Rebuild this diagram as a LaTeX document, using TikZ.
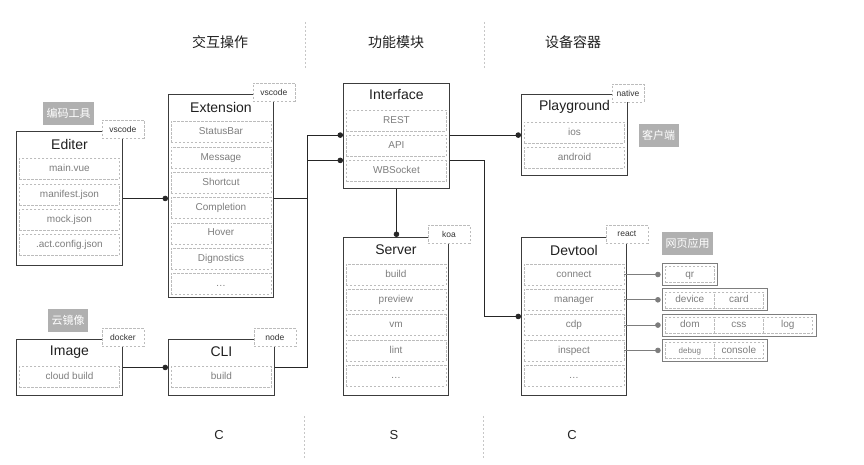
\documentclass[tikz,border=0pt]{standalone}
\usepackage{fontspec}
\setmainfont{Liberation Sans}
\newfontfamily\cjk{Noto Sans CJK SC}
\usetikzlibrary{arrows.meta,positioning,calc}
\definecolor{boxgray}{RGB}{60,60,60}
\definecolor{itemline}{RGB}{188,188,188}
\definecolor{itemtext}{RGB}{125,125,125}
\definecolor{notegray}{RGB}{176,176,176}
\definecolor{sidegray}{RGB}{125,125,125}

\begin{document}
\begin{tikzpicture}[x=1pt, y=-1pt,
    panel/.style={draw=boxgray, line width=0.9pt, anchor=north west, inner sep=0pt},
    paneltitle/.style={font=\fontsize{14}{16}\selectfont, text=black!88},
    item/.style={draw=itemline, dash pattern=on 2.5pt off 1.5pt, text=itemtext, font=\fontsize{10}{12}\selectfont, minimum width=100, minimum height=21, inner sep=0pt, text height=7.5pt, text depth=2pt},
    tag/.style={draw=itemline, dash pattern=on 2.5pt off 1.5pt, fill=white, text=black!80, font=\fontsize{8.5}{10}\selectfont, minimum width=42, minimum height=18, inner sep=0pt},
    note/.style={fill=notegray, text=white, font=\cjk\fontsize{11}{13}\selectfont, minimum height=23, inner xsep=3.5pt, inner ysep=0pt},
    cell/.style={draw=itemline, dash pattern=on 2.5pt off 1.5pt, text=itemtext, font=\fontsize{10}{12}\selectfont, minimum width=49, minimum height=16, inner sep=0pt, text height=7.5pt, text depth=2pt, anchor=west},
    sidebox/.style={draw=sidegray, line width=0.8pt, minimum height=22, inner sep=0pt, anchor=west},
    link/.style={draw=black!85, line width=0.8pt, -{Circle[length=5.5pt]}},
    sidelink/.style={draw=sidegray, line width=0.7pt, shorten >=1.5pt, -{Circle[length=5.5pt]}},
    divider/.style={draw=black!22, dash pattern=on 2pt off 2pt, line width=0.7pt},
    heading/.style={font=\cjk\fontsize{14}{16}\selectfont, text=black!88},
    sideletter/.style={font=\fontsize{13}{15}\selectfont, text=black!85}
  ]
  \useasboundingbox (0,0) rectangle (864,465);

  \node[heading] (col-ui) at (220,42) {交互操作};
  \node[heading] (col-func) at (396,42) {功能模块};
  \node[heading] (col-dev) at (573,42) {设备容器};
  \node[sideletter] (side-ui) at (219,435) {C};
  \node[sideletter] (side-func) at (394,435) {S};
  \node[sideletter] (side-dev) at (572,435) {C};
  \draw[divider] (305,22) -- (305,68);
  \draw[divider] (484,22) -- (484,68);
  \draw[divider] (304,416) -- (304,458);
  \draw[divider] (483,416) -- (483,458);

  \node[note] (note-edit) at (68.5,113.5) {编码工具};
  \node[note] (note-image) at (68,320.5) {云镜像};
  \node[note] (note-client) at (658.5,135.5) {客户端};
  \node[note] (note-web) at (687.5,243.5) {网页应用};

  \node[panel, minimum width=106, minimum height=134] (editer) at (16,131) {};
  \node[paneltitle] (editer-title) at ($(editer.north)+(0,13)$) {Editer};
  \foreach \name [count=\i] in {main.vue, manifest.json, mock.json, .act.config.json}
    \node[item] (edit-\i) at ($(editer.north)+(0,{38+25.3*(\i-1)})$) {\name};
  \node[tag] (editer-tag) at ($(editer.north east)+(0,-2)$) {vscode};

  \node[panel, minimum width=105, minimum height=203] (extension) at (168,94) {};
  \node[paneltitle] (extension-title) at ($(extension.north)+(0,13)$) {Extension};
  \foreach \name [count=\i] in {StatusBar, Message, Shortcut, Completion, Hover, Dignostics, \ldots}
    \node[item] (ext-\i) at ($(extension.north)+(0,{38+25.3*(\i-1)})$) {\name};
  \node[tag] (extension-tag) at ($(extension.north east)+(0,-2)$) {vscode};

  \node[panel, minimum width=106, minimum height=56] (image) at (16,339) {};
  \node[paneltitle] (image-title) at ($(image.north)+(0,13)$) {Image};
  \node[item] (img-1) at ($(image.north)+(0,38)$) {cloud build};
  \node[tag] (image-tag) at ($(image.north east)+(0,-2)$) {docker};

  \node[panel, minimum width=106, minimum height=56] (cli) at (168,339) {};
  \node[paneltitle] (cli-title) at ($(cli.north)+(0,13)$) {CLI};
  \node[item] (cli-1) at ($(cli.north)+(0,38)$) {build};
  \node[tag] (cli-tag) at ($(cli.north east)+(0,-2)$) {node};

  \node[panel, minimum width=106, minimum height=105] (interface) at (343,83) {};
  \node[paneltitle] (interface-title) at ($(interface.north)+(0,12)$) {Interface};
  \foreach \name [count=\i] in {REST, API, WBSocket}
    \node[item] (int-\i) at ($(interface.north)+(0,{37.5+25.3*(\i-1)})$) {\name};

  \node[panel, minimum width=105, minimum height=158] (server) at (343,237) {};
  \node[paneltitle] (server-title) at ($(server.north)+(0,13)$) {Server};
  \foreach \name [count=\i] in {build, preview, vm, lint, \ldots}
    \node[item] (srv-\i) at ($(server.north)+(0,{37.5+25.3*(\i-1)})$) {\name};
  \node[tag] (server-tag) at ($(server.north east)+(0,-3)$) {koa};

  \node[panel, minimum width=106, minimum height=81] (playground) at (521,94) {};
  \node[paneltitle] (playground-title) at ($(playground.north)+(0,13)$) {Playground};
  \foreach \name [count=\i] in {ios, android}
    \node[item] (play-\i) at ($(playground.north)+(0,{38.5+25.3*(\i-1)})$) {\name};
  \node[tag, minimum width=32] (playground-tag) at ($(playground.north east)+(0,-1)$) {native};

  \node[panel, minimum width=105, minimum height=158] (devtool) at (521,237) {};
  \node[paneltitle] (devtool-title) at ($(devtool.north)+(0,13)$) {Devtool};
  \foreach \name [count=\i] in {connect, manager, cdp, inspect, \ldots}
    \node[item] (dev-\i) at ($(devtool.north)+(0,{37.5+25.3*(\i-1)})$) {\name};
  \node[tag] (devtool-tag) at ($(devtool.north east)+(0,-3)$) {react};

  \node[sidebox, minimum width=55] (qr) at ($(dev-1.east)+(38,0)$) {};
  \node[cell] (qr-1) at ($(qr.west)+(3,0)$) {qr};
  \node[sidebox, minimum width=105] (mgr) at ($(dev-2.east)+(38,0)$) {};
  \foreach \name [count=\i] in {device, card}
    \node[cell] (mgr-\i) at ($(mgr.west)+({3+49*(\i-1)},0)$) {\name};
  \node[sidebox, minimum width=154] (cdp) at ($(dev-3.east)+(38,0)$) {};
  \foreach \name [count=\i] in {dom, css, log}
    \node[cell] (cdp-\i) at ($(cdp.west)+({3+49*(\i-1)},0)$) {\name};
  \node[sidebox, minimum width=105] (insp) at ($(dev-4.east)+(38,0)$) {};
  \node[cell, font=\fontsize{8}{10}\selectfont] (insp-1) at ($(insp.west)+(3,0)$) {debug};
  \node[cell] (insp-2) at ($(insp.west)+(52,0)$) {console};

  \coordinate (busl) at (307,0);
  \coordinate (busr) at (484,0);
  \draw[link] (editer.east) -- (editer.east -| extension.west);
  \draw[link] (extension.east |- editer.east) -| (busl |- int-2.north) -- (interface.west |- int-2.north);
  \draw[link] (cli.east) -| (busl |- int-3.north) -- (interface.west |- int-3.north);
  \draw[link] (image.east) -- (cli.west);
  \draw[link] (interface.south) -- (interface.south |- server.north);
  \draw[link] (interface.east |- int-2.north) -- (playground.west |- int-2.north);
  \draw[link] (interface.east |- int-3.north) -| (busr |- devtool.west) -- (devtool.west);
  \draw[sidelink] (dev-1.east) -- (qr.west);
  \draw[sidelink] (dev-2.east) -- (mgr.west);
  \draw[sidelink] (dev-3.east) -- (cdp.west);
  \draw[sidelink] (dev-4.east) -- (insp.west);
\end{tikzpicture}
\end{document}
